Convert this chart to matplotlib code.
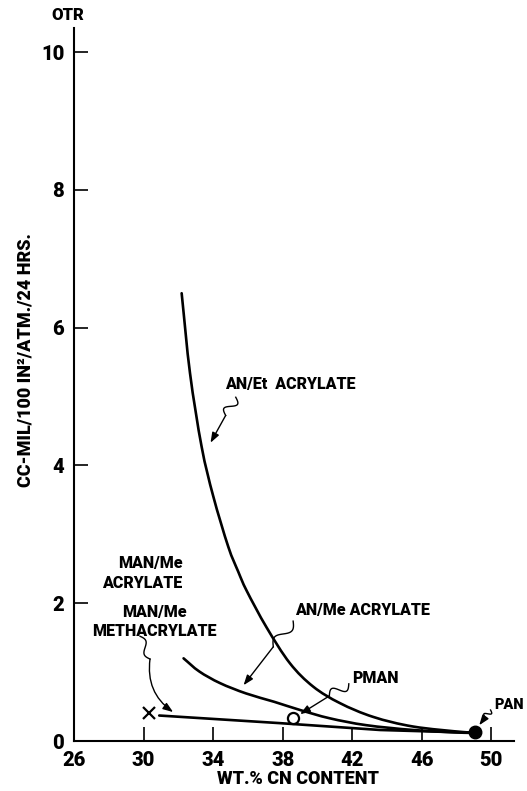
import numpy as np
import matplotlib.pyplot as plt
from matplotlib import font_manager
from matplotlib.path import Path
from matplotlib.patches import PathPatch

# a fairly narrow bold face suits the lettering; DejaVu is the fallback
scale = 1.0
try:
    font_manager.findfont('Roboto', fallback_to_default=False)
    FONT = ['Roboto', 'DejaVu Sans']
except ValueError:
    FONT = ['DejaVu Sans']
    scale = 0.88
plt.rcParams['font.family'] = FONT
plt.rcParams['font.weight'] = 'black'

# oxygen transmission vs. nitrile content
an_et_x = [32.19, 32.67, 33.34, 34.01, 34.87, 35.44, 35.93, 37.07, 38.41, 39.75, 41.29, 43.2, 45.5, 48.37, 49.05]
an_et_y = [6.50, 5.34, 4.27, 3.55, 2.82, 2.46, 2.18, 1.65, 1.13, 0.79, 0.55, 0.35, 0.21, 0.13, 0.13]

an_me_x = [32.3, 33.2, 34.4, 35.9, 37.5, 39.0, 40.7, 42.8, 45.5, 48.4, 49.05]
an_me_y = [1.20, 1.01, 0.84, 0.69, 0.57, 0.45, 0.33, 0.23, 0.16, 0.12, 0.13]

man_me_x = [30.9, 37.8, 43.6, 49.0]
man_me_y = [0.37, 0.26, 0.16, 0.12]

man_x, man_y = 30.3, 0.41       # MAN/Me methacrylate point
pman_x, pman_y = 38.6, 0.33
pan_x, pan_y = 49.05, 0.135

x_ticks = [26, 30, 34, 38, 42, 46, 50]
y_ticks = [0, 2, 4, 6, 8, 10]

fig = plt.figure(figsize=(5.27, 7.91), dpi=100)
ax = fig.add_axes([0.1404, 0.0632, 0.835, 0.9014])
ax.set_xlim(26, 51.3)
ax.set_ylim(0, 10.35)


def smooth_curve(xs, ys, lw):
    # Catmull-Rom through the points, drawn as cubic Bezier segments
    p = np.column_stack([xs, ys]).astype(float)
    p = np.vstack([p[0] * 2 - p[1], p, p[-1] * 2 - p[-2]])
    verts = [tuple(p[1])]
    codes = [Path.MOVETO]
    for i in range(1, len(p) - 2):
        c1 = p[i] + (p[i + 1] - p[i - 1]) / 6
        c2 = p[i + 1] - (p[i + 2] - p[i]) / 6
        verts += [tuple(c1), tuple(c2), tuple(p[i + 1])]
        codes += [Path.CURVE4] * 3
    ax.add_patch(PathPatch(Path(verts, codes), fill=False, lw=lw,
                           edgecolor='black', capstyle='round'))


lw = 1.9
smooth_curve(an_et_x, an_et_y, lw)
smooth_curve(an_me_x, an_me_y, lw)
ax.plot(man_me_x, man_me_y, color='black', lw=lw, solid_capstyle='round')
ax.plot(man_x, man_y, marker='x', ms=8, mew=1.6, color='black')
ax.plot(pman_x, pman_y, marker='o', ms=8, mfc='white', mec='black', mew=1.6)
ax.plot(pan_x, pan_y, marker='o', ms=9, color='black')

for side in ('top', 'right'):
    ax.spines[side].set_visible(False)
for side in ('left', 'bottom'):
    ax.spines[side].set_linewidth(1.5)
ax.set_xticks(x_ticks)
ax.set_yticks(y_ticks)
ax.tick_params(direction='in', length=10, width=1.2, labelsize=14.5 * scale, pad=7)


def squiggle_arrow(start, end, frac=0.4, amp=5.0, rad=0.0):
    # wiggle drawn in pixel space so its shape does not depend on axis scaling
    p0 = ax.transData.transform(start)
    p1 = ax.transData.transform(end)
    d = p1 - p0
    u = d / np.hypot(*d)
    n = np.array([-u[1], u[0]])
    t = np.linspace(0, frac, 40)
    off = amp * np.sin(2 * np.pi * t / frac)
    pts = p0 + np.outer(t, d) + np.outer(off, n)
    xy = ax.transData.inverted().transform(pts)
    ax.plot(xy[:, 0], xy[:, 1], color='black', lw=1.0)
    ax.annotate('', xy=end, xytext=tuple(xy[-1]),
                arrowprops=dict(arrowstyle='-|>,head_length=0.6,head_width=0.22',
                                color='black', lw=1.0, shrinkA=0, shrinkB=0,
                                connectionstyle=f'arc3,rad={rad}'))


fs = 11.5 * scale
ax.text(34.7, 5.18, 'AN/Et  ACRYLATE', fontsize=fs, va='center', ha='left')
squiggle_arrow((35.3, 4.99), (33.85, 4.33))

ax.text(38.7, 1.90, 'AN/Me ACRYLATE', fontsize=fs, va='center', ha='left')
squiggle_arrow((38.6, 1.74), (35.75, 0.81))

ax.text(42.0, 0.91, 'PMAN', fontsize=fs, va='center', ha='left')
squiggle_arrow((41.8, 0.83), (39.0, 0.39))

ax.text(50.15, 0.52, 'PAN', fontsize=10.5 * scale, va='center', ha='left')
squiggle_arrow((49.95, 0.45), (49.3, 0.23), frac=0.5, amp=3)

ax.text(32.25, 2.44, 'MAN/Me\nACRYLATE', fontsize=fs, va='center', ha='right',
        multialignment='right', linespacing=1.25)
ax.text(30.65, 1.74, 'MAN/Me\nMETHACRYLATE', fontsize=fs, va='center', ha='center',
        linespacing=1.25)
squiggle_arrow((29.8, 1.52), (31.7, 0.42), frac=0.3, amp=3.5, rad=0.3)

ax.set_xlabel('WT.% CN CONTENT', fontsize=13 * scale, fontweight='black')
ax.xaxis.set_label_coords(0.51, -0.041)
fig.text(26 / 527, 1 - 360 / 791, 'CC-MIL/100 IN²/ATM./24 HRS.', rotation=90,
         fontsize=13 * scale, ha='center', va='center')
fig.text(68 / 527, 1 - 15 / 791, 'OTR', fontsize=12 * scale, ha='center', va='center')

fig.savefig('out.png', dpi=100)
